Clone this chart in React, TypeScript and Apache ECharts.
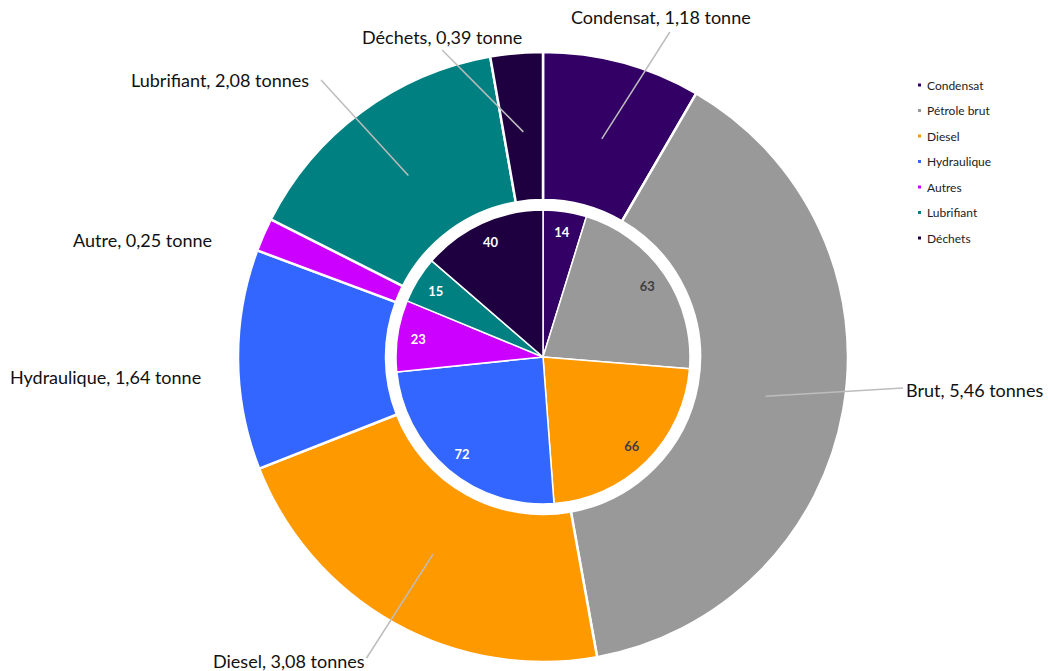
import React, { useEffect, useRef } from 'react';
import * as echarts from 'echarts';

const categories = ['Condensat', 'Pétrole brut', 'Diesel', 'Hydraulique', 'Autres', 'Lubrifiant', 'Déchets'];
const labelNames = ['Condensat', 'Brut', 'Diesel', 'Hydraulique', 'Autre', 'Lubrifiant', 'Déchets'];
const tonnes = [1.18, 5.46, 3.08, 1.64, 0.25, 2.08, 0.39];
const innerValues = [14, 63, 66, 72, 23, 15, 40];

const colors = ['#330066', '#999999', '#FF9900', '#3366FF', '#CC00FF', '#008080', '#1E0040'];
const innerLabelColors = ['#ffffff', '#404040', '#404040', '#ffffff', '#ffffff', '#ffffff', '#ffffff'];
// annotation placement (layout, not data): label left/middle, and where its leader line ends
// relative to the label (fx = fraction of label width, dx/dy = offsets)
const labelLayoutPos = [
  { x: 571, y: 17, line: true, fx: 0.55, dx: 0, dy: 15 },
  { x: 906, y: 390, line: true, fx: 0, dx: -3, dy: -2 },
  { x: 213, y: 661, line: true, fx: 1, dx: 2, dy: -3 },
  { x: 10, y: 377, line: false, fx: 0, dx: 0, dy: 0 },
  { x: 73, y: 240, line: false, fx: 0, dx: 0, dy: 0 },
  { x: 131, y: 80, line: true, fx: 1, dx: 12, dy: 0 },
  { x: 362, y: 37, line: true, fx: 0.5, dx: 0, dy: 13 },
];

const fmt = (v: number) => v.toFixed(2).replace('.', ',') + (v >= 2 ? ' tonnes' : ' tonne');

export default function App() {
  const ref = useRef<HTMLDivElement>(null);
  useEffect(() => {
    if (!ref.current) return;
    const chart = echarts.init(ref.current, undefined, { renderer: 'svg' });
    const center = [543, 357];
    const font = 'Lato, "Open Sans", sans-serif';
    chart.setOption({
      animation: false,
      color: colors,
      legend: {
        orient: 'vertical',
        left: 911,
        top: 73,
        itemWidth: 5,
        itemHeight: 5,
        icon: 'rect',
        itemGap: 11.5,
        data: categories,
        textStyle: { fontSize: 12, color: '#222', fontFamily: font, lineHeight: 14 },
        selectedMode: false,
      },
      series: [
        {
          type: 'pie',
          name: 'outer',
          center,
          radius: [157, 305],
          startAngle: 90,
          clockwise: true,
          silent: true,
          z: 2,
          label: { show: false },
          labelLine: { show: false },
          itemStyle: { borderColor: '#ffffff', borderWidth: 2.5 },
          data: categories.map((c, i) => ({ name: c, value: tonnes[i], itemStyle: { color: colors[i] } })),
        },
        {
          type: 'pie',
          name: 'inner',
          center,
          radius: [0, 147],
          startAngle: 90,
          clockwise: true,
          silent: true,
          z: 2,
          label: { show: false },
          labelLine: { show: false },
          itemStyle: { borderColor: '#ffffff', borderWidth: 1.5 },
          data: categories.map((c, i) => ({ name: c, value: innerValues[i], itemStyle: { color: colors[i] } })),
        },
        {
          type: 'pie',
          name: 'innerLabels',
          center,
          radius: [98, 148],
          startAngle: 90,
          clockwise: true,
          silent: true,
          z: 5,
          itemStyle: { color: 'rgba(0,0,0,0)' },
          labelLine: { show: false },
          label: {
            show: true,
            position: 'inside',
            fontSize: 13,
            fontWeight: 'bold',
            fontFamily: font,
          },
          data: categories.map((c, i) => ({
            name: c,
            value: innerValues[i],
            itemStyle: { color: 'rgba(0,0,0,0)' },
            label: { color: innerLabelColors[i], formatter: String(innerValues[i]) },
          })),
        },
        {
          type: 'pie',
          name: 'outerLabels',
          center,
          radius: [0, 226],
          startAngle: 90,
          clockwise: true,
          silent: true,
          z: 10,
          avoidLabelOverlap: false,
          label: {
            show: true,
            position: 'outside',
            fontSize: 18,
            color: '#111',
            fontFamily: font,
          },
          labelLine: { show: true, length: 10, length2: 10, lineStyle: { color: '#bdbdbd', width: 1.5 } },
          labelLayout: (params: any) => {
            const p = labelLayoutPos[params.dataIndex];
            const w = params.labelRect ? params.labelRect.width : 0;
            const start = params.labelLinePoints ? params.labelLinePoints[0] : null;
            const res: any = { x: p.x, y: p.y, align: 'left', verticalAlign: 'middle' };
            if (p.line && start) {
              res.labelLinePoints = [
                [start[0], start[1]],
                [p.x + p.fx * w + p.dx, p.y + p.dy],
              ];
            }
            return res;
          },
          data: categories.map((c, i) => ({
            name: c,
            value: tonnes[i],
            itemStyle: { color: 'rgba(0,0,0,0)' },
            label: { formatter: labelNames[i] + ', ' + fmt(tonnes[i]) },
            labelLine: { show: labelLayoutPos[i].line },
          })),
        },
      ],
    });
    return () => chart.dispose();
  }, []);
  return (
    <div
      ref={ref}
      style={{ position: 'fixed', left: 0, top: 0, width: 1048, height: 671, background: '#ffffff' }}
    />
  );
}
